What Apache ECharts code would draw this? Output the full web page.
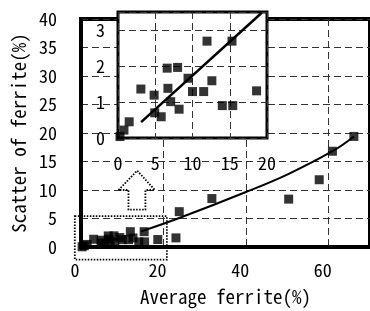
<!DOCTYPE html>
<html>
<head>
<meta charset="utf-8">
<script src="https://cdn.jsdelivr.net/npm/echarts@6/dist/echarts.min.js"></script>
<style>
html,body{margin:0;padding:0;background:#fff;}
#chart{width:370px;height:311px;}
</style>
</head>
<body>
<div id="chart"></div>
<script>
// points below ~20% ferrite (shown in both the main plot and the enlarged inset)
const lowPts = [
  [0.27,0.04],[0.8,0.22],[1.5,0.45],[3.07,1.36],[4.85,1.19],[4.93,0.70],[5.8,0.59],
  [6.6,1.94],[6.7,1.38],[7.07,1.01],[8.0,1.96],[8.2,0.80],[9.4,1.66],[10.0,1.29],
  [11.5,1.29],[11.95,2.69],[12.6,1.59],[14.0,0.90],[15.3,2.69],[15.4,0.90],[18.6,1.31]
];
// points only visible in the main plot
const highPts = [[23,1.6],[23.8,6.2],[31.7,8.5],[50.3,8.4],[57.7,11.8],[60.9,16.8],[66.1,19.4]];
// fitted curve (main)
const mainFit = [[14.5,2.7],[24.6,5.3],[39.8,9.6],[50.2,12.8],[60.9,16.8],[66.1,19.4]];
// fitted line (inset)
const insetFit = [[3.1,0.44],[19.3,3.48]];

const mainXTicks = [0,20,40,60];
const mainYTicks = [0,5,10,15,20,25,30,35,40];

// annotation shapes, in main-plot data units
const zoomBox = [[-1.5,-2.2],[20.8,5.4]];
const arrowPts = [[9.1,10.0],[13.6,13.4],[17.9,10.0],[15.6,10.0],[15.6,6.55],[11.5,6.55],[11.5,10.0]];

const monoFam = '"Noto Sans Mono CJK JP","Liberation Mono",monospace';
const tickFont = {color:'#000', fontSize:18, fontFamily:monoFam};
const titleFont = {color:'#000', fontSize:19, fontFamily:monoFam};
const dashed = {color:'#333', width:1, type:[7,4]};

let myChart = echarts.init(document.getElementById('chart'), null, {renderer:'canvas'});
let option = {
  animation:false,
  grid:[
    {left:81, top:19, width:294, height:232, show:true, borderColor:'#000', borderWidth:4, z:0},
    {left:118, top:12, width:149, height:126, show:true, borderColor:'#000', borderWidth:3, backgroundColor:'#fff', z:5}
  ],
  xAxis:[
    {
      gridIndex:0, type:'value', min:0, max:70, interval:20,
      name:'Average ferrite(%)', nameLocation:'middle', nameGap:40, nameTextStyle:titleFont,
      axisLine:{show:true, onZero:false, lineStyle:{color:'#000', width:4}},
      axisTick:{show:false},
      axisLabel:Object.assign({margin:14, padding:[0,12,0,0], showMaxLabel:false,
        formatter:v=>mainXTicks.includes(v)?String(v):''}, tickFont),
      splitLine:{show:true, lineStyle:dashed}
    },
    {
      gridIndex:1, type:'value', min:0, max:20, interval:5, z:5,
      axisLine:{show:false},
      axisTick:{show:false},
      axisLabel:Object.assign({margin:16}, tickFont),
      splitLine:{show:true, lineStyle:dashed}
    }
  ],
  yAxis:[
    {
      gridIndex:0, type:'value', min:0, max:40, interval:5,
      name:'Scatter of ferrite(%)', nameLocation:'middle', nameGap:43, nameTextStyle:titleFont,
      axisLine:{show:true, onZero:false, lineStyle:{color:'#000', width:4}},
      axisTick:{show:false},
      axisLabel:Object.assign({margin:24, formatter:v=>mainYTicks.includes(v)?String(v):''}, tickFont),
      splitLine:{show:true, lineStyle:dashed}
    },
    {
      gridIndex:1, type:'value', min:0, max:3.5, interval:1, z:5,
      axisLine:{show:false},
      axisTick:{show:false},
      axisLabel:Object.assign({margin:13, showMaxLabel:false,
        formatter:v=>Number.isInteger(v)?String(v):''}, tickFont),
      splitLine:{show:true, lineStyle:dashed}
    }
  ],
  series:[
    {
      type:'line', xAxisIndex:0, yAxisIndex:0, data:mainFit, smooth:0.4,
      showSymbol:false, lineStyle:{color:'#000', width:2}, z:2
    },
    {
      type:'scatter', xAxisIndex:0, yAxisIndex:0, data:lowPts.concat(highPts),
      symbol:'rect', symbolSize:9, itemStyle:{color:'#000'}, z:3
    },
    {
      type:'line', xAxisIndex:1, yAxisIndex:1, data:insetFit,
      showSymbol:false, lineStyle:{color:'#000', width:2.5}, z:6
    },
    {
      type:'scatter', xAxisIndex:1, yAxisIndex:1, data:lowPts,
      symbol:'rect', symbolSize:9, itemStyle:{color:'#000'}, z:7
    }
  ]
};
myChart.setOption(option);

// dotted annotations placed through the main axes
let toPx = p => myChart.convertToPixel({gridIndex:0}, p);
let b0 = toPx(zoomBox[0]), b1 = toPx(zoomBox[1]);
myChart.setOption({
  graphic:[
    {
      type:'rect', z:10, silent:true,
      shape:{x:Math.min(b0[0],b1[0]), y:Math.min(b0[1],b1[1]), width:Math.abs(b1[0]-b0[0]), height:Math.abs(b1[1]-b0[1])},
      style:{fill:null, stroke:'#000', lineWidth:1.8, lineDash:[1.5,1.5]}
    },
    {
      type:'polygon', z:10, silent:true,
      shape:{points:arrowPts.map(toPx)},
      style:{fill:'#fff', stroke:'#000', lineWidth:1.8, lineDash:[1.5,1.5]}
    }
  ]
});
window.onresize = function(){ myChart.resize(); };
</script>
</body>
</html>
